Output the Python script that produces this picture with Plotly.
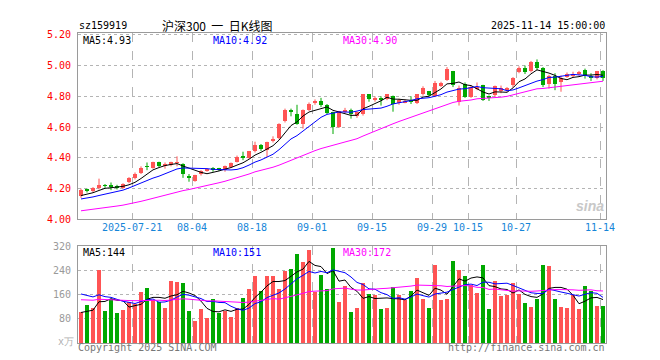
import plotly.graph_objects as go
import numpy as np

# ---------------- data ----------------
opens = [4.15, 4.19, 4.18, 4.20, 4.22, 4.22, 4.215, 4.205, 4.24, 4.265,
         4.30, 4.345, 4.335, 4.37, 4.35, 4.35, 4.365, 4.36, 4.275, 4.25,
         4.295, 4.315, 4.33, 4.33, 4.32, 4.34, 4.37, 4.405, 4.40, 4.44,
         4.48, 4.45, 4.505, 4.525, 4.64, 4.705, 4.685, 4.62, 4.71, 4.755,
         4.77, 4.74, 4.695, 4.60, 4.70, 4.71, 4.67, 4.68, 4.81, 4.78,
         4.79, 4.78, 4.80, 4.755, 4.76, 4.77, 4.755, 4.81, 4.83, 4.80,
         4.865, 4.905, 4.96, 4.76, 4.875, 4.795, 4.85, 4.87, 4.80, 4.805,
         4.83, 4.84, 4.87, 4.955, 4.985, 4.96, 5.02, 4.98, 4.88, 4.93,
         4.89, 4.925, 4.935, 4.945, 4.97, 4.93, 4.92, 4.96]
closes = [4.19, 4.185, 4.20, 4.22, 4.215, 4.21, 4.205, 4.225, 4.27, 4.295,
          4.335, 4.34, 4.37, 4.345, 4.36, 4.37, 4.37, 4.29, 4.27, 4.285,
          4.315, 4.325, 4.325, 4.325, 4.345, 4.365, 4.405, 4.40, 4.44, 4.48,
          4.455, 4.50, 4.52, 4.62, 4.71, 4.70, 4.62, 4.71, 4.75, 4.765,
          4.74, 4.69, 4.60, 4.70, 4.71, 4.68, 4.695, 4.81, 4.78, 4.79,
          4.78, 4.81, 4.75, 4.775, 4.77, 4.765, 4.81, 4.855, 4.805, 4.885,
          4.885, 4.975, 4.87, 4.85, 4.795, 4.86, 4.86, 4.775, 4.785, 4.865,
          4.855, 4.85, 4.92, 4.985, 4.955, 5.02, 4.98, 4.87, 4.93, 4.88,
          4.92, 4.94, 4.945, 4.955, 4.93, 4.92, 4.96, 4.92]
highs = [4.20, 4.20, 4.21, 4.265, 4.23, 4.24, 4.225, 4.235, 4.275, 4.305,
         4.345, 4.37, 4.375, 4.375, 4.37, 4.375, 4.41, 4.365, 4.295, 4.29,
         4.32, 4.33, 4.34, 4.335, 4.35, 4.37, 4.415, 4.44, 4.445, 4.505,
         4.49, 4.505, 4.54, 4.625, 4.72, 4.72, 4.745, 4.715, 4.76, 4.78,
         4.79, 4.75, 4.70, 4.705, 4.725, 4.72, 4.70, 4.815, 4.815, 4.80,
         4.80, 4.815, 4.805, 4.785, 4.78, 4.80, 4.815, 4.865, 4.835, 4.90,
         4.895, 4.99, 4.965, 4.87, 4.89, 4.87, 4.89, 4.875, 4.805, 4.87,
         4.87, 4.86, 4.925, 4.995, 5.00, 5.03, 5.04, 4.99, 4.94, 4.95,
         4.935, 4.955, 4.96, 4.965, 4.98, 4.95, 4.965, 4.97]
lows = [4.14, 4.175, 4.175, 4.195, 4.205, 4.19, 4.195, 4.20, 4.235, 4.26,
        4.295, 4.32, 4.33, 4.34, 4.33, 4.345, 4.345, 4.27, 4.245, 4.245,
        4.285, 4.31, 4.31, 4.315, 4.31, 4.335, 4.37, 4.385, 4.395, 4.435,
        4.445, 4.405, 4.50, 4.52, 4.63, 4.67, 4.615, 4.59, 4.705, 4.745,
        4.73, 4.685, 4.555, 4.595, 4.69, 4.655, 4.66, 4.675, 4.765, 4.765,
        4.74, 4.775, 4.70, 4.745, 4.755, 4.75, 4.75, 4.805, 4.80, 4.795,
        4.86, 4.90, 4.86, 4.74, 4.79, 4.79, 4.84, 4.77, 4.77, 4.795,
        4.82, 4.83, 4.86, 4.95, 4.945, 4.955, 4.97, 4.86, 4.85, 4.84,
        4.83, 4.92, 4.925, 4.935, 4.915, 4.90, 4.91, 4.90]
volumes = [101, 125, 115, 240, 106, 146, 99, 109, 134, 130,
           167, 182, 141, 134, 115, 205, 202, 198, 106, 74,
           112, 83, 147, 100, 107, 86, 117, 150, 179, 221,
           173, 221, 221, 179, 237, 243, 294, 266, 307, 170,
           224, 179, 314, 134, 189, 102, 115, 198, 163, 157,
           112, 115, 186, 160, 141, 173, 214, 144, 115, 259,
           141, 147, 272, 240, 221, 192, 166, 256, 112, 205,
           154, 157, 198, 163, 131, 118, 144, 256, 253, 147,
           118, 115, 157, 112, 189, 173, 122, 122]

# moving-average values at the first bar
price_ma_first = {5: 4.155, 10: 4.133, 30: 4.056}
vol_ma_first = {5: 101, 10: 162, 30: 143}

tick_index = [9, 19, 29, 39, 49, 59, 65, 73, 87]
tick_labels = ["2025-07-21", "08-04", "08-18", "09-01", "09-15",
               "09-29", "10-15", "10-27", "11-14"]
price_ticks = [4.00, 4.20, 4.40, 4.60, 4.80, 5.00, 5.20]
vol_ticks = [80, 160, 240, 320]

ma_labels_price = ["MA5:4.93", "MA10:4.92", "MA30:4.90"]
ma_labels_vol = ["MA5:144", "MA10:151", "MA30:172"]

# ---------------- helpers ----------------
W, H = 660, 360
def px(x):
    return x / W
def py(y):
    return 1 - y / H

def moving_avg(vals, n, first):
    vals = np.asarray(vals, dtype=float)
    pad = (n * first - vals[0]) / (n - 1)
    full = np.concatenate([np.full(n - 1, pad), vals])
    c = np.cumsum(np.insert(full, 0, 0.0))
    return (c[n:] - c[:-n]) / n

N = len(closes)
idx = list(range(N))
RED = "#FF5454"
GREEN = "#00A800"
up = [c >= o for o, c in zip(opens, closes)]
colors = [RED if u else GREEN for u in up]
MONO = "DejaVu Sans Mono"

fig = go.Figure()

# wicks
for col, flag in ((RED, True), (GREEN, False)):
    wx, wy = [], []
    for i in idx:
        if up[i] == flag:
            wx += [i, i, None]
            wy += [lows[i], highs[i], None]
    fig.add_trace(go.Scatter(x=wx, y=wy, mode="lines",
                             line=dict(color=col, width=1),
                             xaxis="x", yaxis="y", hoverinfo="skip"))

# bodies
base = [min(o, c) for o, c in zip(opens, closes)]
hgt = [max(abs(c - o), 0.004) for o, c in zip(opens, closes)]
fig.add_trace(go.Bar(x=idx, y=hgt, base=base, width=0.8,
                     marker=dict(color=colors, line=dict(width=0)),
                     xaxis="x", yaxis="y"))

# price MAs
for n, col in ((5, "#000000"), (10, "#0000FF"), (30, "#FF00FF")):
    fig.add_trace(go.Scatter(x=idx, y=moving_avg(closes, n, price_ma_first[n]),
                             mode="lines", line=dict(color=col, width=1),
                             xaxis="x", yaxis="y", hoverinfo="skip"))

# volume
fig.add_trace(go.Bar(x=idx, y=volumes, width=0.83,
                     marker=dict(color=colors, line=dict(width=0)),
                     xaxis="x2", yaxis="y2"))
for n, col in ((5, "#000000"), (10, "#0000FF"), (30, "#FF00FF")):
    fig.add_trace(go.Scatter(x=idx, y=moving_avg(volumes, n, vol_ma_first[n]),
                             mode="lines", line=dict(color=col, width=1),
                             xaxis="x2", yaxis="y2", hoverinfo="skip"))

xdom = [px(70), px(598)]
xcommon = dict(domain=xdom, range=[-0.5, N - 0.5],
               tickvals=[t - 0.5 for t in tick_index],
               showgrid=True, gridcolor="#B4B4B4", griddash="dash", gridwidth=1,
               showline=True, mirror=True, linecolor="#9A9A9A", linewidth=1,
               zeroline=False, ticks="", fixedrange=True, showticklabels=False)

fig.update_layout(
    width=W, height=H,
    margin=dict(l=0, r=0, t=0, b=0),
    paper_bgcolor="white", plot_bgcolor="white",
    showlegend=False, barmode="overlay", bargap=0,
    xaxis=dict(**xcommon, anchor="y"),
    yaxis=dict(domain=[py(212.5), py(20)], range=[4.0, 5.2094],
               tickvals=price_ticks, ticktext=[f"{v:.2f}" for v in price_ticks],
               tickfont=dict(family=MONO, size=10, color="#FF0000"),
               ticklabelstandoff=4,
               showgrid=True, gridcolor="#B4B4B4", griddash="dot",
               showline=True, mirror=True, linecolor="#9A9A9A",
               zeroline=False, ticks="", anchor="x", fixedrange=True),
    xaxis2=dict(**xcommon, anchor="y2"),
    yaxis2=dict(domain=[py(340.5), py(240)], range=[0, 320],
                tickvals=vol_ticks, ticktext=[str(v) for v in vol_ticks],
                tickfont=dict(family=MONO, size=10, color="#9A9A9A"),
                ticklabelstandoff=4,
                showgrid=True, gridcolor="#B4B4B4", griddash="dot",
                showline=True, mirror=True, linecolor="#9A9A9A",
                zeroline=False, ticks="", anchor="x2", fixedrange=True),
)

def note(text, x, y, color="#000000", size=10, xanchor="left", family=MONO,
         xref="paper"):
    fig.add_annotation(text=text, x=(px(x) if xref == "paper" else x), y=py(y),
                       xref=xref, yref="paper",
                       showarrow=False, xanchor=xanchor, yanchor="middle",
                       font=dict(family=family, size=size, color=color))

# date labels under the price panel, placed on the x axis scale
for t, lab in zip(tick_index, tick_labels):
    note(lab, t - 0.5, 221, color="#1585D8", xanchor="center", xref="x")

note("sz159919", 69, 12)
note("沪深300&nbsp;&nbsp;一&nbsp;&nbsp;日K线图", 209, 12, xanchor="center", size=12,
     family="Noto Sans CJK SC")
note("2025-11-14 15:00:00", 599, 12, xanchor="right")

ma_x = [73, 203, 333]
ma_cols = ["#000000", "#0000FF", "#FF00FF"]
for t, x, c in zip(ma_labels_price, ma_x, ma_cols):
    note(t, x, 27, color=c)
for t, x, c in zip(ma_labels_vol, ma_x, ma_cols):
    note(t, x, 247, color=c)

note("x万", 48, 339, color="#B0B0B0", size=10)
note("Copyright 2025 SINA.COM", 68, 345, color="#777777")
note("http://finance.sina.com.cn", 599, 345, color="#777777", xanchor="right")
note("<b><i>sina</i></b>", 582, 199, color="#C8C8C8", size=14, xanchor="center",
     family="Arial")

fig.write_html("out.html")
